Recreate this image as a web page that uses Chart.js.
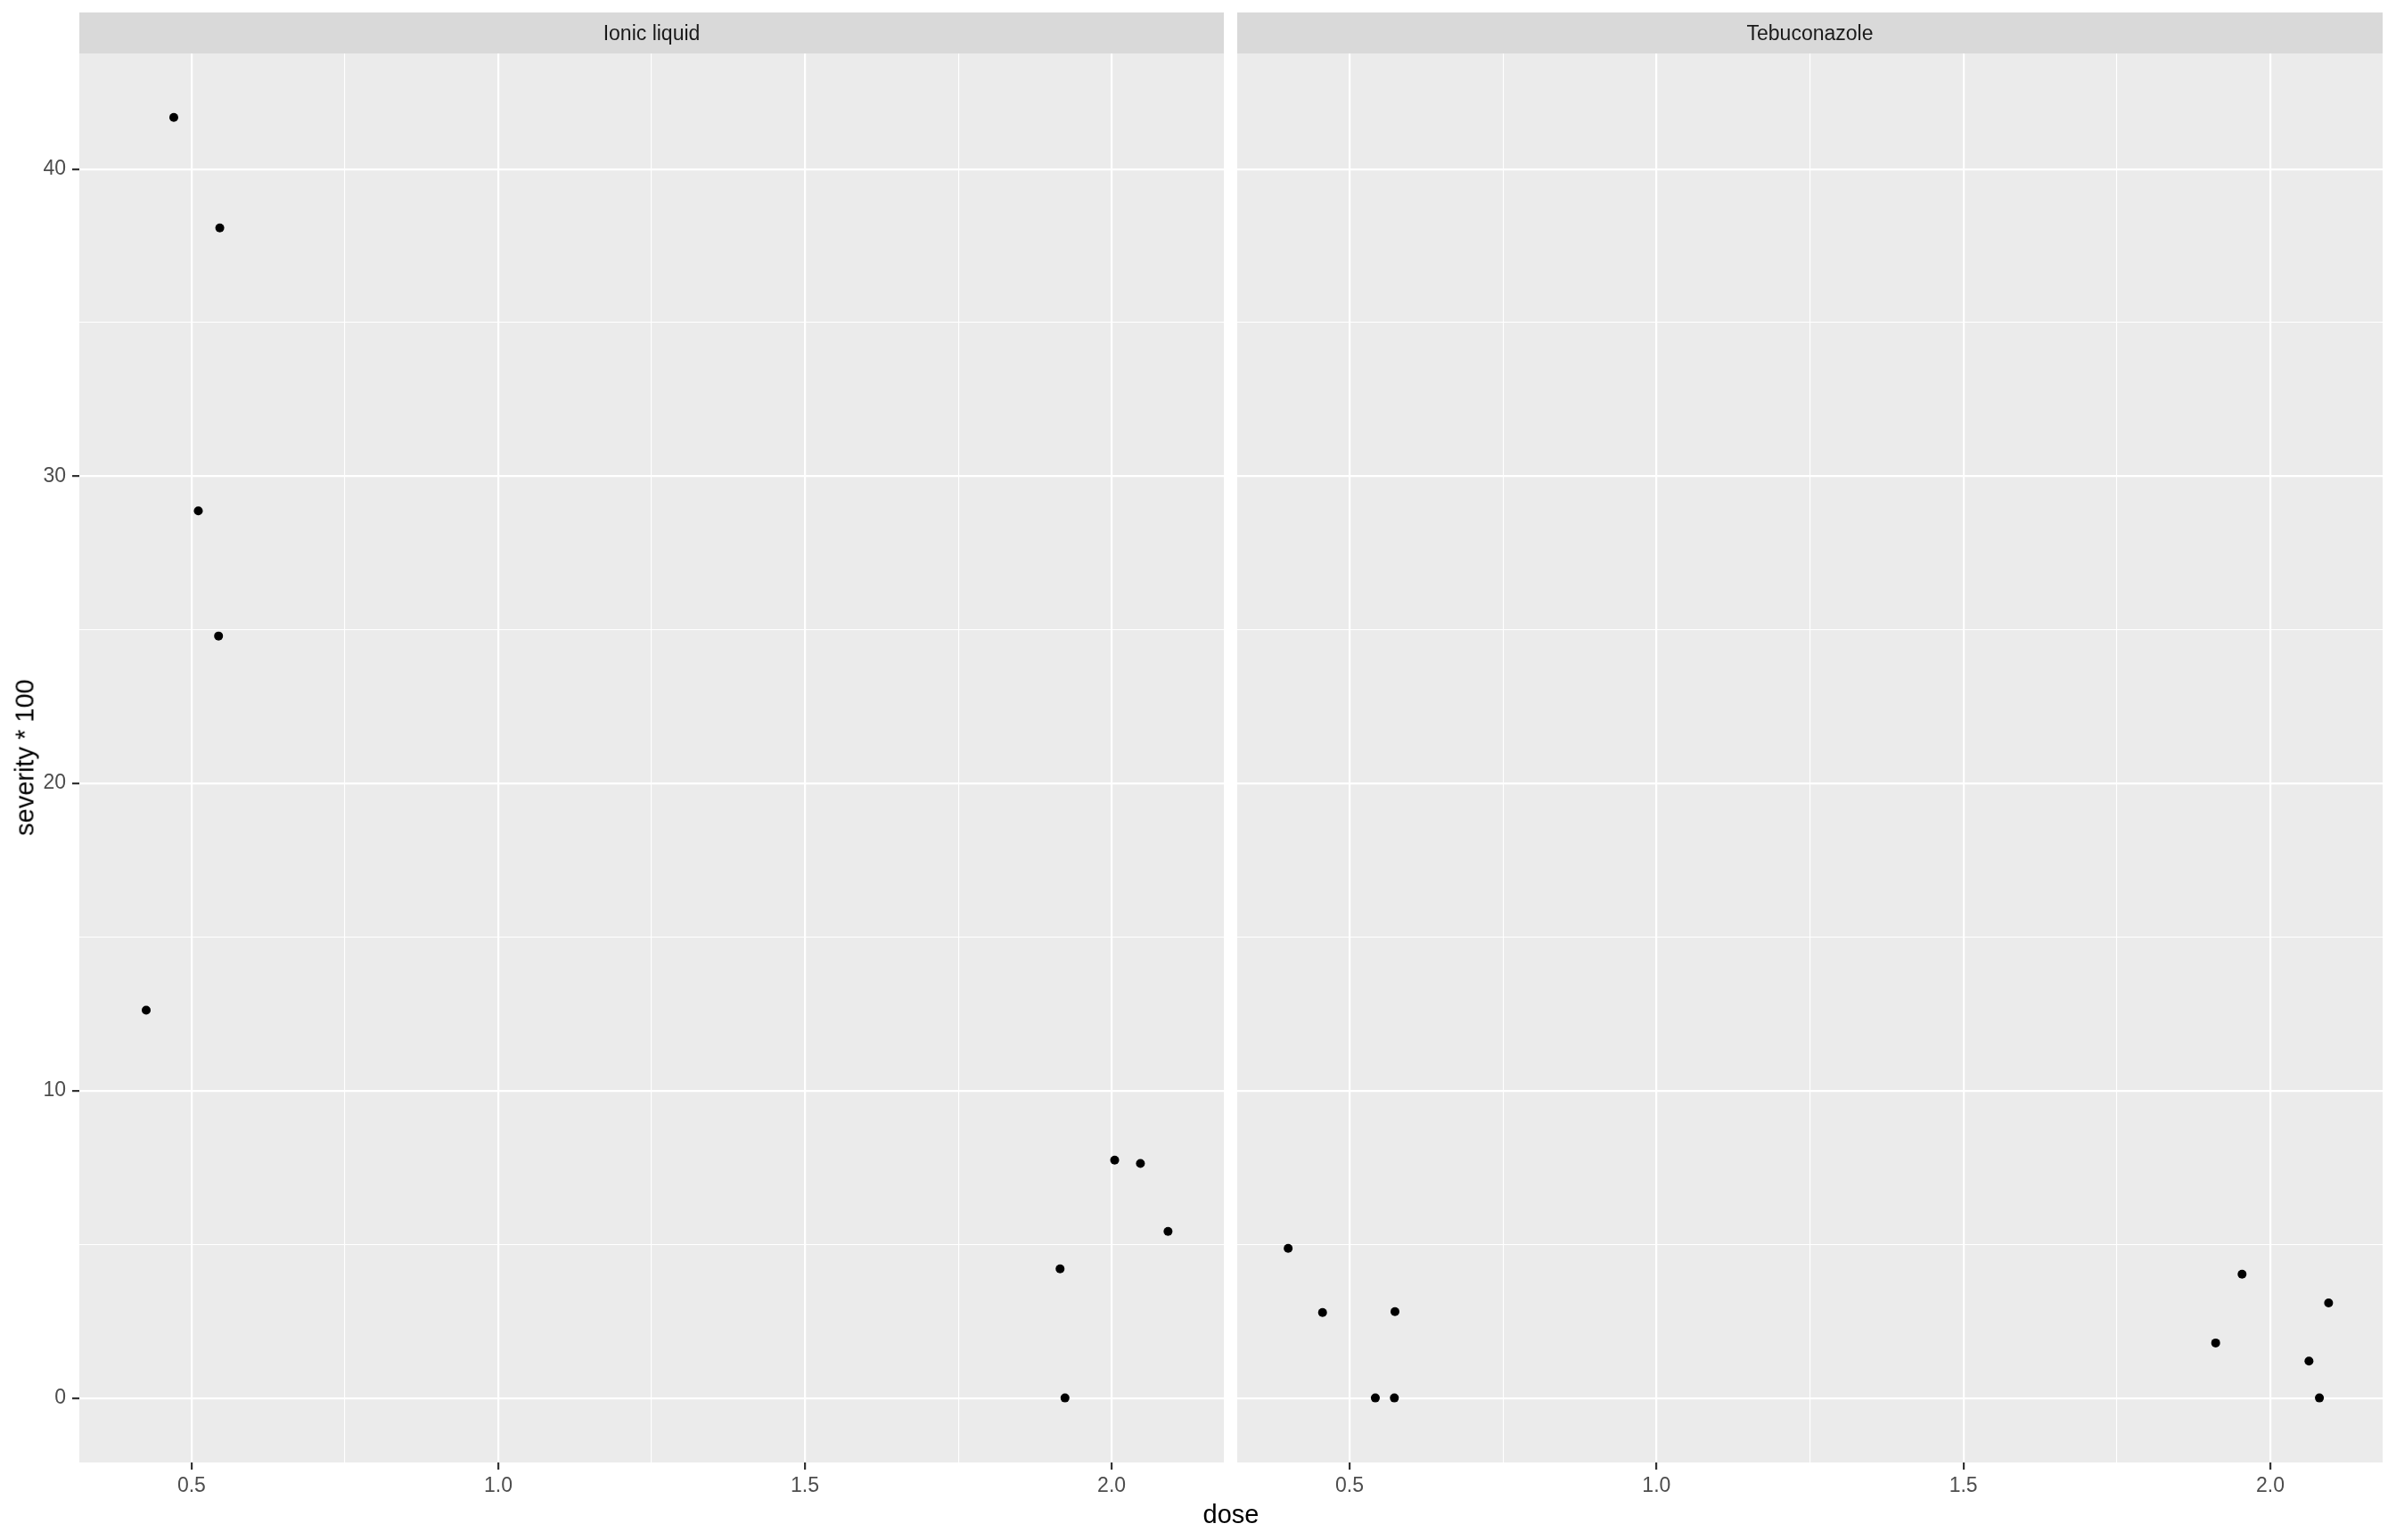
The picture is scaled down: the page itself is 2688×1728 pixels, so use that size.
<!DOCTYPE html>
<html>
<head>
<meta charset="utf-8">
<script src="https://cdn.jsdelivr.net/npm/chart.js@4/dist/chart.umd.min.js"></script>
<style>
  body { margin: 0; background: #fff; }
  #wrap { position: relative; width: 2688px; height: 1728px; background: #fff; }
  canvas { position: absolute; top: 0; display: block; }
  .lbl { position: absolute; font-family: "Liberation Sans", Arial, sans-serif; color: #000; white-space: nowrap; }
</style>
</head>
<body>
<div id="wrap">
  <canvas id="panelIL" width="1373" height="1728" style="left:0px"></canvas>
  <canvas id="panelTeb" width="1285" height="1728" style="left:1388px"></canvas>
  <div class="lbl" id="xTitle" style="left:1381px; top:1683px; font-size:29px; transform:translateX(-50%);">dose</div>
  <div class="lbl" id="yTitle" style="left:28px; top:850px; font-size:29px; transform:translate(-50%,-50%) rotate(-90deg);">severity * 100</div>
</div>
<script>
// Ionic liquid facet
const ilDose = [0.471, 0.546, 0.511, 0.544, 0.426, 2.005, 2.047, 2.092, 1.916, 1.924];
const ilSeverity = [41.68, 38.08, 28.87, 24.80, 12.62, 7.74, 7.63, 5.42, 4.20, 0];

// Tebuconazole facet
const tebDose = [0.400, 0.456, 0.574, 0.542, 0.573, 1.911, 1.954, 2.063, 2.080, 2.095];
const tebSeverity = [4.87, 2.78, 2.81, 0, 0, 1.79, 4.03, 1.20, 0, 3.09];

const facetNames = ["Ionic liquid", "Tebuconazole"];

const xMajor = [0.5, 1.0, 1.5, 2.0];
const xMinor = [0.75, 1.25, 1.75];
const yMajor = [0, 10, 20, 30, 40];
const yMinor = [5, 15, 25, 35];

const tickFont = { family: "Liberation Sans, Arial, sans-serif", size: 23 };

// grey panel + facet strip, like ggplot's theme_grey
const panelBg = {
  id: "panelBg",
  beforeDraw(chart, args, opts) {
    const { ctx, chartArea: a } = chart;
    ctx.save();
    ctx.fillStyle = "#EBEBEB";
    ctx.fillRect(a.left, a.top, a.right - a.left, a.bottom - a.top);
    ctx.fillStyle = "#D9D9D9";
    ctx.fillRect(a.left, 14, a.right - a.left, a.top - 14);
    ctx.fillStyle = "#1A1A1A";
    ctx.font = "23px Liberation Sans, Arial, sans-serif";
    ctx.textAlign = "center";
    ctx.textBaseline = "middle";
    ctx.fillText(opts.title, (a.left + a.right) / 2, (a.top + 14) / 2 + 2);
    ctx.restore();
  }
};

const isMajor = (list, v) => list.some((m) => Math.abs(m - v) < 1e-6);

function makePanel(canvasId, xs, ys, title, showY) {
  const pts = xs.map((x, i) => ({ x: x, y: ys[i] }));
  return new Chart(document.getElementById(canvasId), {
    type: "scatter",
    data: {
      datasets: [
        {
          data: pts,
          backgroundColor: "#000",
          borderColor: "#000",
          pointRadius: 5,
          pointHoverRadius: 5,
          borderWidth: 0,
        },
      ],
    },
    plugins: [panelBg],
    options: {
      responsive: false,
      animation: false,
      devicePixelRatio: 1,
      layout: { autoPadding: false, padding: { top: 60, left: 0, right: 0, bottom: 0 } },
      plugins: {
        legend: { display: false },
        tooltip: { enabled: false },
        panelBg: { title: title },
      },
      scales: {
        x: {
          type: "linear",
          min: 0.317,
          max: 2.183,
          afterBuildTicks: (s) => {
            s.ticks = xMajor.concat(xMinor).map((v) => ({ value: v }));
          },
          afterFit: (s) => { s.height = 87; },
          border: { display: false },
          grid: {
            color: "#FFFFFF",
            lineWidth: (c) => (isMajor(xMajor, c.tick.value) ? 2.2 : 1.1),
            tickColor: (c) => (isMajor(xMajor, c.tick.value) ? "#333333" : "rgba(0,0,0,0)"),
            tickLength: 8,
            tickWidth: 2.2,
          },
          ticks: {
            font: tickFont,
            color: "#4D4D4D",
            padding: 5,
            maxRotation: 0,
            autoSkip: false,
            callback: (v) => (isMajor(xMajor, v) ? v.toFixed(1) : ""),
          },
        },
        y: {
          type: "linear",
          min: -2.10,
          max: 43.76,
          afterBuildTicks: (s) => {
            s.ticks = yMajor.concat(yMinor).map((v) => ({ value: v }));
          },
          afterFit: (s) => { s.width = showY ? 89 : 0; },
          border: { display: false },
          grid: {
            color: "#FFFFFF",
            lineWidth: (c) => (isMajor(yMajor, c.tick.value) ? 2.2 : 1.1),
            tickColor: (c) => (showY && isMajor(yMajor, c.tick.value) ? "#333333" : "rgba(0,0,0,0)"),
            drawTicks: showY,
            tickLength: 8,
            tickWidth: 2.2,
          },
          ticks: {
            display: showY,
            font: tickFont,
            color: "#4D4D4D",
            padding: 7,
            autoSkip: false,
            callback: (v) => (isMajor(yMajor, v) ? String(v) : ""),
          },
        },
      },
    },
  });
}

makePanel("panelIL", ilDose, ilSeverity, facetNames[0], true);
makePanel("panelTeb", tebDose, tebSeverity, facetNames[1], false);
</script>
</body>
</html>
